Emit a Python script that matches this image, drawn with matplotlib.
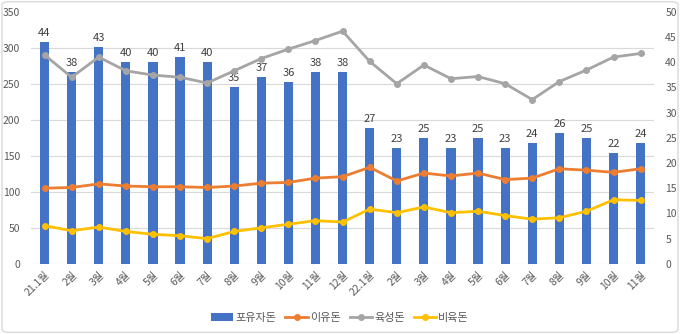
import numpy as np
import matplotlib.pyplot as plt
from matplotlib.patches import FancyBboxPatch

plt.rcParams['font.family'] = ['Noto Sans CJK KR', 'DejaVu Sans']

months = ['21.1월', '2월', '3월', '4월', '5월', '6월', '7월', '8월', '9월', '10월', '11월', '12월',
          '22.1월', '2월', '3월', '4월', '5월', '6월', '7월', '8월', '9월', '10월', '11월']
# bars (right axis)
suckling = [44, 38, 43, 40, 40, 41, 40, 35, 37, 36, 38, 38,
            27, 23, 25, 23, 25, 23, 24, 26, 25, 22, 24]
# lines (left axis)
weaning = [105, 106, 111, 108, 107, 107, 106, 108, 112, 113, 119, 121,
           134, 115, 126, 122, 126, 117, 119, 132, 130, 127, 132]
growing = [290, 259, 287, 268, 262, 259, 251, 268, 285, 298, 310, 323,
           281, 250, 276, 257, 260, 250, 228, 253, 269, 287, 292]
finishing = [53, 46, 51, 45, 41, 39, 35, 45, 50, 55, 60, 58,
             76, 71, 79, 71, 73, 67, 62, 64, 73, 89, 88]

c_bar = '#4472C4'
c_wean = '#ED7D31'
c_grow = '#A5A5A5'
c_fin = '#FFC000'
txt = '#595959'

fig = plt.figure(figsize=(6.8, 3.34), dpi=100)
ax = fig.add_axes([0.0456, 0.21, 0.9164, 0.755])
ax2 = ax.twinx()

x = np.arange(len(months))

# bars on bottom layer, scale shown on the right
bars = ax.bar(x, suckling, width=0.34, color=c_bar, label='포유자돈', zorder=2)
ax.bar_label(bars, padding=3, fontsize=8, color='#404040')
ax.set_ylim(0, 50)
ax.set_yticks(np.arange(0, 51, 5))
ax.set_yticks(np.arange(0, 351, 50) / 7, minor=True)
ax.yaxis.tick_right()
ax.grid(True, which='minor', axis='y', color='#D9D9D9', lw=0.8, zorder=0)
ax.set_axisbelow(True)
ax.tick_params(axis='y', which='both', length=0, labelsize=7.5, labelcolor=txt, pad=8)

# lines on top layer, scale shown on the left
ax2.plot(x, weaning, color=c_wean, lw=2, marker='o', ms=4, label='이유돈')
ax2.plot(x, growing, color=c_grow, lw=2, marker='o', ms=4, label='육성돈')
ax2.plot(x, finishing, color=c_fin, lw=2, marker='o', ms=4, label='비육돈')
ax2.set_ylim(0, 350)
ax2.set_yticks(np.arange(0, 351, 50))
ax2.yaxis.tick_left()
ax2.tick_params(axis='y', length=0, labelsize=7.5, labelcolor=txt, pad=8)

ax.set_xlim(-0.5, len(months) - 0.5)
ax.set_xticks(x)
ax.set_xticklabels(months, rotation=45, ha='right', rotation_mode='anchor',
                   fontsize=7.5, color=txt)
ax.tick_params(axis='x', length=0, pad=4)

for a in (ax, ax2):
    for s in a.spines.values():
        s.set_visible(False)
ax.axhline(0, color='#D9D9D9', lw=0.8, zorder=1)

h1, l1 = ax.get_legend_handles_labels()
h2, l2 = ax2.get_legend_handles_labels()
fig.legend(h1 + h2, l1 + l2, loc='center', bbox_to_anchor=(0.5, 0.048), ncol=4,
           frameon=False, fontsize=8, labelcolor=txt, handlelength=2.0,
           columnspacing=0.8, handletextpad=0.2)

fig.patches.append(FancyBboxPatch((0.003, 0.005), 0.994, 0.99,
                                  boxstyle='round,pad=0,rounding_size=0.01',
                                  transform=fig.transFigure, fc='none',
                                  ec='#D9D9D9', lw=1))

fig.savefig('out.png', dpi=100)
